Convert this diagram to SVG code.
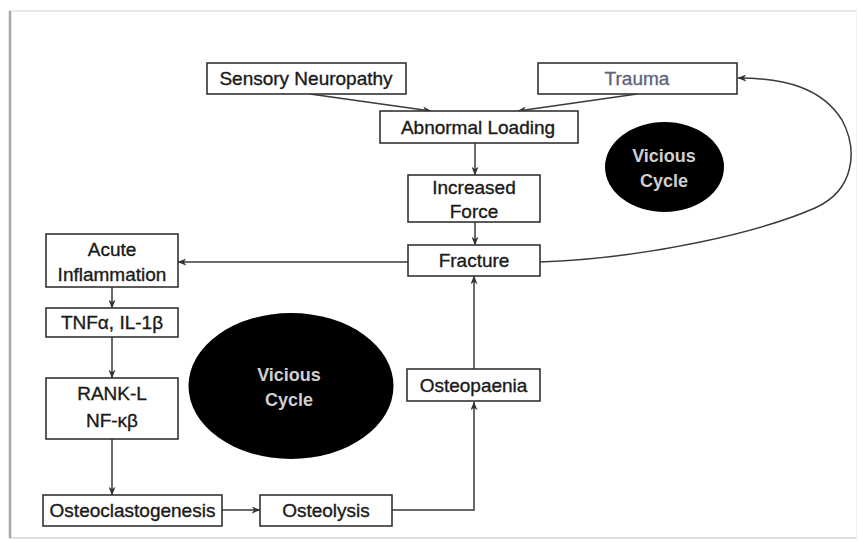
<svg xmlns="http://www.w3.org/2000/svg" width="858" height="541" viewBox="0 0 858 541">
<defs>
<style>
.box{fill:#fff;stroke:#333;stroke-width:1.6}
.t{font-family:"Liberation Sans",Arial,sans-serif;font-size:19px;fill:#1a1a1a;stroke:#1a1a1a;stroke-width:0.35;text-anchor:middle;dominant-baseline:central}
.w{font-family:"Liberation Sans",Arial,sans-serif;font-size:18px;font-weight:bold;fill:#cfcfcf;text-anchor:middle;dominant-baseline:central}
.c{fill:none;stroke:#3a3a3a;stroke-width:1.5}
</style>
<marker id="ah" viewBox="0 0 10 8" refX="9.5" refY="4" markerWidth="9" markerHeight="7" markerUnits="userSpaceOnUse" orient="auto">
<path d="M0,0 L10,4 L0,8 L3,4 Z" fill="#333"/>
</marker>
</defs>
<rect x="0" y="0" width="858" height="541" fill="#fff"/>
<g id="frame">
<line x1="9" y1="11" x2="857" y2="11" stroke="#e8e8e8" stroke-width="2"/>
<line x1="9" y1="538" x2="857" y2="538" stroke="#e0e0e0" stroke-width="2"/>
<line x1="856.5" y1="11" x2="856.5" y2="538" stroke="#f3f3f3" stroke-width="1"/>
<line x1="10" y1="11" x2="10" y2="538" stroke="#a8a8a8" stroke-width="2.5"/>
</g>
<g id="connectors">
<line class="c" x1="310" y1="94" x2="431" y2="111" marker-end="url(#ah)"/>
<line class="c" x1="637" y1="94" x2="518" y2="111" marker-end="url(#ah)"/>
<line class="c" x1="475" y1="143" x2="475" y2="175" marker-end="url(#ah)"/>
<line class="c" x1="475" y1="222" x2="475" y2="245" marker-end="url(#ah)"/>
<line class="c" x1="408" y1="262" x2="178" y2="262" marker-end="url(#ah)"/>
<path class="c" d="M540,262 C650,258 760,232 815,208 C855,190 858,150 842,120 C822,88 785,78 738,78" marker-end="url(#ah)"/>
<line class="c" x1="112" y1="287" x2="112" y2="308" marker-end="url(#ah)"/>
<line class="c" x1="112" y1="337" x2="112" y2="378" marker-end="url(#ah)"/>
<line class="c" x1="112" y1="439" x2="112" y2="495" marker-end="url(#ah)"/>
<line class="c" x1="222" y1="510" x2="260" y2="510" marker-end="url(#ah)"/>
<polyline class="c" points="392,510 474,510 474,402" marker-end="url(#ah)"/>
<line class="c" x1="474" y1="369" x2="474" y2="276" marker-end="url(#ah)"/>
</g>
<g id="sensory">
<rect class="box" x="207" y="63" width="199" height="31"/>
<text class="t" x="306" y="78.5">Sensory Neuropathy</text>
</g>
<g id="trauma">
<rect class="box" x="538" y="63" width="199" height="31"/>
<text class="t" x="637" y="78.5" style="fill:#62627c;stroke:#62627c">Trauma</text>
</g>
<g id="abnormal">
<rect class="box" x="380" y="111" width="198" height="32"/>
<text class="t" x="478" y="127.5">Abnormal Loading</text>
</g>
<g id="increased">
<rect class="box" x="408" y="175" width="132" height="47"/>
<text class="t" x="474" y="187.5">Increased</text>
<text class="t" x="474" y="211.5">Force</text>
</g>
<g id="fracture">
<rect class="box" x="408" y="245" width="132" height="31"/>
<text class="t" x="474" y="260.5">Fracture</text>
</g>
<g id="vicious2">
<ellipse cx="664.5" cy="167" rx="59.5" ry="45" fill="#000"/>
<text class="w" x="664" y="156">Vicious</text>
<text class="w" x="664" y="181">Cycle</text>
</g>
<g id="acute">
<rect class="box" x="46" y="234" width="132" height="53"/>
<text class="t" x="112" y="249">Acute</text>
<text class="t" x="112" y="274">Inflammation</text>
</g>
<g id="tnf">
<rect class="box" x="46" y="308" width="132" height="29"/>
<text class="t" x="112" y="322.5">TNFα, IL-1β</text>
</g>
<g id="rank">
<rect class="box" x="46" y="378" width="132" height="61"/>
<text class="t" x="112" y="393">RANK-L</text>
<text class="t" x="112" y="420">NF-κβ</text>
</g>
<g id="vicious1">
<ellipse cx="291" cy="386" rx="102.5" ry="73" fill="#000"/>
<text class="w" x="289" y="375">Vicious</text>
<text class="w" x="289" y="400">Cycle</text>
</g>
<g id="osteoclasto">
<rect class="box" x="43" y="495" width="179" height="31"/>
<text class="t" x="132.5" y="510.5">Osteoclastogenesis</text>
</g>
<g id="osteolysis">
<rect class="box" x="260" y="495" width="132" height="31"/>
<text class="t" x="326" y="510.5">Osteolysis</text>
</g>
<g id="osteopaenia">
<rect class="box" x="407" y="369" width="133" height="32"/>
<text class="t" x="473.5" y="385">Osteopaenia</text>
</g>
</svg>
